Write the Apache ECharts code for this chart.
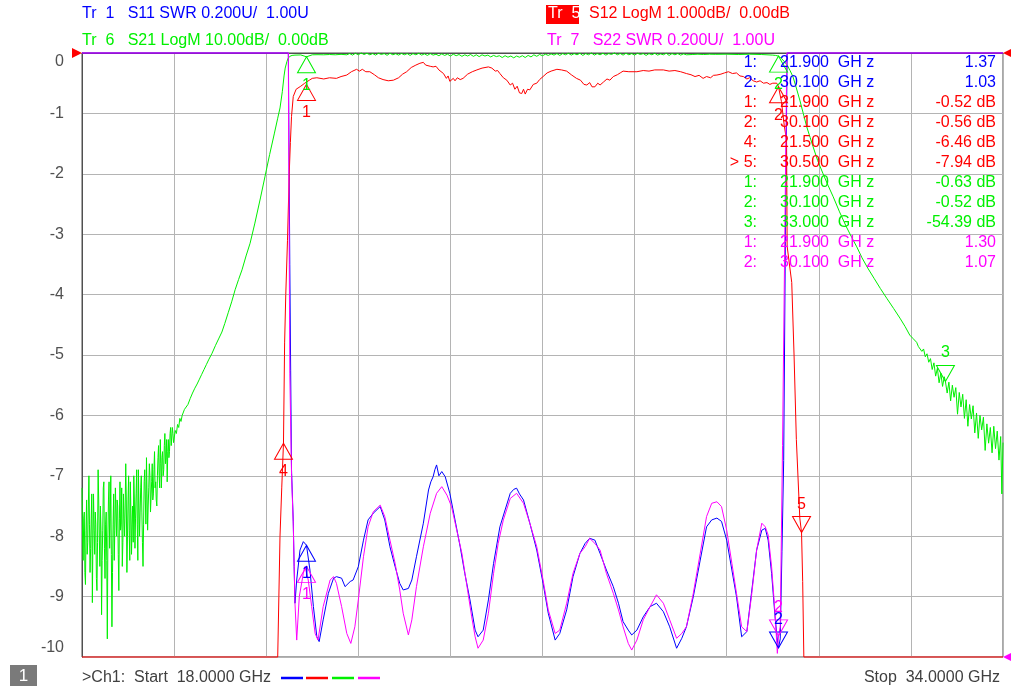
<!DOCTYPE html>
<html><head><meta charset="utf-8">
<script src="https://cdn.jsdelivr.net/npm/echarts@6.0.0/dist/echarts.min.js"></script>
<style>html,body{margin:0;padding:0;background:#fff;}#c{width:1011px;height:686px;}</style>
</head><body><div id="c"></div>
<script>
// ---------- DATA (frequency GHz, value) ----------
const startGHz = 18, stopGHz = 34;
const yTicks = [0,-1,-2,-3,-4,-5,-6,-7,-8,-9,-10];

// Tr1 S11 SWR (U)
const s11 = [[18,3],[21.585,3],[21.61,2.3],[21.625,1.95],[21.64,1.62],[21.67,1.45],[21.685,1.3],[21.70,1.178],[21.73,1.255],[21.787,1.354],[21.845,1.382],[21.9,1.37],[21.96,1.288],[22.02,1.167],[22.08,1.067],[22.12,1.051],[22.19,1.123],[22.28,1.211],[22.37,1.261],[22.42,1.266],[22.51,1.261],[22.57,1.233],[22.66,1.25],[22.71,1.255],[22.80,1.299],[22.89,1.387],[22.97,1.454],[23.06,1.476],[23.18,1.498],[23.26,1.454],[23.35,1.365],[23.44,1.299],[23.52,1.244],[23.58,1.222],[23.67,1.227],[23.73,1.255],[23.81,1.332],[23.93,1.443],[24.02,1.553],[24.06,1.58],[24.10,1.597],[24.13,1.62],[24.16,1.636],[24.2,1.6],[24.25,1.614],[24.31,1.597],[24.39,1.542],[24.48,1.454],[24.57,1.365],[24.65,1.277],[24.74,1.189],[24.83,1.089],[24.88,1.067],[24.97,1.089],[25.06,1.189],[25.15,1.31],[25.26,1.431],[25.35,1.487],[25.44,1.542],[25.5,1.555],[25.55,1.559],[25.6,1.54],[25.67,1.52],[25.78,1.443],[25.90,1.354],[26.01,1.244],[26.10,1.145],[26.22,1.056],[26.30,1.078],[26.42,1.156],[26.53,1.266],[26.65,1.343],[26.74,1.376],[26.82,1.393],[26.91,1.387],[27.00,1.343],[27.11,1.288],[27.23,1.233],[27.32,1.178],[27.40,1.117],[27.49,1.089],[27.55,1.073],[27.64,1.089],[27.75,1.133],[27.87,1.167],[27.98,1.178],[28.10,1.15],[28.21,1.1],[28.33,1.029],[28.42,1.062],[28.50,1.1],[28.62,1.2],[28.74,1.321],[28.85,1.431],[28.94,1.454],[29.03,1.46],[29.11,1.449],[29.20,1.387],[29.29,1.288],[29.37,1.2],[29.46,1.067],[29.55,1.084],[29.63,1.211],[29.72,1.354],[29.81,1.42],[29.87,1.426],[29.92,1.387],[29.98,1.277],[30.04,1.133],[30.08,1.056],[30.10,1.03],[30.13,1.06],[30.16,1.35],[30.19,1.65],[30.22,2.4],[30.25,3],[34,3]];

// Tr7 S22 SWR (U)
const s22 = [[18,3],[21.584,3],[21.61,1.94],[21.64,1.605],[21.67,1.44],[21.70,1.178],[21.73,1.056],[21.775,1.2],[21.845,1.277],[21.874,1.299],[21.9,1.30],[21.93,1.255],[21.99,1.167],[22.05,1.078],[22.10,1.056],[22.19,1.167],[22.31,1.255],[22.37,1.266],[22.42,1.244],[22.51,1.167],[22.60,1.078],[22.67,1.045],[22.74,1.1],[22.80,1.189],[22.89,1.332],[22.97,1.431],[23.06,1.481],[23.18,1.503],[23.26,1.465],[23.35,1.387],[23.44,1.31],[23.52,1.222],[23.58,1.145],[23.67,1.073],[23.73,1.123],[23.81,1.233],[23.93,1.365],[24.05,1.476],[24.16,1.542],[24.25,1.564],[24.34,1.536],[24.42,1.498],[24.51,1.42],[24.60,1.343],[24.68,1.244],[24.77,1.133],[24.83,1.067],[24.88,1.029],[24.97,1.056],[25.06,1.145],[25.15,1.277],[25.23,1.376],[25.32,1.454],[25.44,1.525],[25.55,1.542],[25.67,1.509],[25.78,1.443],[25.90,1.365],[26.01,1.255],[26.10,1.156],[26.22,1.078],[26.30,1.089],[26.42,1.178],[26.53,1.277],[26.65,1.343],[26.74,1.365],[26.82,1.393],[26.91,1.376],[27.00,1.354],[27.11,1.277],[27.23,1.211],[27.32,1.156],[27.40,1.1],[27.49,1.045],[27.55,1.023],[27.64,1.056],[27.75,1.123],[27.87,1.167],[27.98,1.206],[28.10,1.178],[28.21,1.123],[28.33,1.062],[28.42,1.078],[28.50,1.1],[28.62,1.211],[28.74,1.343],[28.85,1.465],[28.94,1.509],[29.03,1.514],[29.11,1.498],[29.20,1.42],[29.29,1.31],[29.37,1.211],[29.46,1.1],[29.55,1.084],[29.63,1.2],[29.72,1.354],[29.81,1.443],[29.87,1.431],[29.92,1.404],[29.98,1.299],[30.04,1.145],[30.08,1.012],[30.10,1.07],[30.13,1.1],[30.17,1.7],[30.21,2.4],[30.245,3],[34,3]];

// Tr5 S12 LogM (dB)
const s12 = [[18,-10],[21.40,-10],[21.42,-9.0],[21.44,-8.0],[21.47,-7.2],[21.50,-6.46],[21.52,-4.8],[21.54,-4.0],[21.57,-3.1],[21.60,-2.0],[21.62,-1.48],[21.64,-1.05],[21.67,-0.72],[21.72,-0.6],[21.80,-0.55],[21.87,-0.5],[21.90,-0.52],[21.95,-0.45],[22.00,-0.42],[22.08,-0.41],[22.2,-0.43],[22.3,-0.41],[22.42,-0.42],[22.5,-0.39],[22.6,-0.365],[22.68,-0.31],[22.77,-0.27],[22.82,-0.3],[22.87,-0.27],[22.93,-0.31],[23.00,-0.31],[23.08,-0.36],[23.15,-0.41],[23.23,-0.44],[23.32,-0.46],[23.41,-0.45],[23.5,-0.41],[23.57,-0.35],[23.64,-0.31],[23.72,-0.24],[23.8,-0.2],[23.87,-0.17],[23.93,-0.155],[23.97,-0.2],[24.0,-0.17],[24.05,-0.22],[24.10,-0.23],[24.15,-0.22],[24.2,-0.28],[24.28,-0.34],[24.33,-0.42],[24.36,-0.38],[24.39,-0.47],[24.42,-0.48],[24.45,-0.42],[24.48,-0.46],[24.52,-0.41],[24.57,-0.44],[24.62,-0.42],[24.7,-0.35],[24.78,-0.31],[24.86,-0.28],[24.95,-0.25],[25.06,-0.23],[25.12,-0.25],[25.18,-0.3],[25.22,-0.29],[25.26,-0.34],[25.32,-0.41],[25.38,-0.45],[25.44,-0.53],[25.48,-0.5],[25.52,-0.6],[25.56,-0.55],[25.6,-0.66],[25.64,-0.67],[25.67,-0.6],[25.7,-0.68],[25.74,-0.6],[25.78,-0.61],[25.84,-0.52],[25.9,-0.5],[25.95,-0.44],[26.01,-0.39],[26.08,-0.33],[26.15,-0.3],[26.25,-0.27],[26.33,-0.28],[26.42,-0.30],[26.5,-0.36],[26.59,-0.42],[26.66,-0.45],[26.72,-0.52],[26.77,-0.53],[26.82,-0.49],[26.86,-0.56],[26.91,-0.56],[26.96,-0.5],[27.0,-0.53],[27.06,-0.48],[27.12,-0.43],[27.17,-0.45],[27.23,-0.39],[27.3,-0.36],[27.35,-0.33],[27.40,-0.30],[27.5,-0.31],[27.64,-0.31],[27.75,-0.29],[27.85,-0.3],[27.95,-0.28],[28.1,-0.28],[28.2,-0.3],[28.3,-0.29],[28.4,-0.31],[28.5,-0.34],[28.58,-0.36],[28.65,-0.39],[28.72,-0.37],[28.79,-0.42],[28.85,-0.39],[28.92,-0.41],[28.97,-0.37],[29.03,-0.365],[29.1,-0.35],[29.16,-0.33],[29.23,-0.31],[29.3,-0.34],[29.37,-0.33],[29.43,-0.38],[29.49,-0.39],[29.55,-0.43],[29.6,-0.41],[29.66,-0.46],[29.72,-0.48],[29.78,-0.46],[29.84,-0.5],[29.9,-0.49],[29.95,-0.52],[30.0,-0.5],[30.07,-0.50],[30.10,-0.56],[30.15,-0.8],[30.2,-1.2],[30.24,-1.45],[30.25,-3.2],[30.33,-3.8],[30.37,-5.0],[30.41,-6.4],[30.47,-7.7],[30.50,-7.94],[30.52,-8.75],[30.54,-10],[34,-10]];

// Tr6 S21 LogM (dB): low stop band read at 0.01 GHz sweep steps from 18.00 GHz
const s21LowStart = 18.00, s21LowStep = 0.01;
const s21Low = [
 -72,-80,-84,-77,-76,-86,-88,-79,-74,-83,
 -81,-75,-70,-78,-86,-82,-77,-73,-91,-80,
 -73,-79,-83,-76,-78,-87,-89,-81,-69,-74,
 -80,-85,-75,-79,-93,-84,-79,-72,-71,-82,
 -87,-78,-76,-84,-97,-80,-74,-71,-82,-77,
 -70,-83,-95,-86,-78,-73,-84,-79,-72,-76,
 -80,-74,-75,-83,-89,-77,-71,-79,-78,-72,
 -85,-81,-73,-77,-80,-75,-68,-74,-86,-80,
 -74,-70,-79,-84,-71,-76,-83,-78,-75,-81,
 -70,-74,-82,-77,-73,-69,-78,-84,-69,-75,
 -80,-76,-72,-70,-76,-81,-85,-78,-71,-69,
 -74,-78,-67,-73,-79,-75,-72,-68,-70,-76,
 -76,-71,-68,-74,-73,-69,-66,-72,-71,-74,
 -75,-70,-67,-65,-70,-72,-64,-68,-72,-67,
 -66,-70,-69,-65,-63,-68,-67,-64,-71,-66,
 -64,-67,-66,-63,-62,-65,-65,-62,-63,-64.5];
// rest of the S21 sweep (GHz, dB)
const s21Rest = [[19.60,-64.5],[19.62,-62.5],[19.64,-63],[19.66,-61.5],[19.68,-62],[19.70,-60.5],[19.72,-61],[19.74,-60],[19.76,-59.8],[19.78,-59],[19.80,-58.8],[19.84,-58.2],[19.88,-57.2],[19.92,-56.3],[19.96,-55.5],[20.00,-54.8],[20.04,-54],[20.08,-53.2],[20.12,-52.4],[20.16,-51.6],[20.20,-50.8],[20.26,-49.7],[20.32,-48.4],[20.38,-47.2],[20.43,-46.2],[20.48,-44.8],[20.54,-43],[20.60,-41.2],[20.66,-39.2],[20.72,-37.5],[20.78,-35.9],[20.85,-33.6],[20.92,-31.5],[21.00,-28.3],[21.10,-24],[21.18,-20.4],[21.26,-16.8],[21.34,-13.4],[21.40,-10.8],[21.44,-9.1],[21.48,-6.4],[21.51,-3.8],[21.53,-2.5],[21.56,-1.4],[21.58,-0.9],[21.61,-0.55],[21.65,-0.4],[21.70,-0.35],[21.80,-0.32],[21.90,-0.63],[22.0,-0.3],[22.1,-0.28],[22.2,-0.3],[22.3,-0.25],[22.4,-0.3],[22.5,-0.22],[22.6,-0.3],[22.65,-0.1],[22.7,-0.35],[22.75,-0.05],[22.8,-0.3],[22.85,0],[22.9,-0.25],[22.95,-0.05],[23.0,-0.3],[23.05,-0.1],[23.1,-0.35],[23.15,-0.05],[23.2,-0.25],[23.25,-0.1],[23.3,-0.38],[23.35,-0.05],[23.4,-0.3],[23.45,-0.12],[23.5,-0.35],[23.55,-0.08],[23.6,-0.3],[23.65,-0.1],[23.7,-0.4],[23.75,-0.1],[23.8,-0.3],[23.85,-0.05],[23.9,-0.35],[23.95,-0.15],[24.0,-0.4],[24.05,-0.1],[24.1,-0.35],[24.15,-0.2],[24.2,-0.45],[24.25,-0.15],[24.3,-0.4],[24.35,-0.2],[24.4,-0.5],[24.45,-0.2],[24.5,-0.45],[24.55,-0.25],[24.6,-0.55],[24.65,-0.3],[24.7,-0.5],[24.75,-0.25],[24.8,-0.55],[24.85,-0.3],[24.9,-0.6],[24.95,-0.3],[25.0,-0.5],[25.05,-0.35],[25.1,-0.65],[25.15,-0.4],[25.2,-0.6],[25.25,-0.45],[25.3,-0.75],[25.35,-0.45],[25.4,-0.7],[25.45,-0.5],[25.5,-0.8],[25.55,-0.5],[25.6,-0.7],[25.65,-0.45],[25.7,-0.75],[25.75,-0.4],[25.8,-0.65],[25.85,-0.3],[25.9,-0.55],[25.95,-0.25],[26.0,-0.45],[26.05,-0.2],[26.1,-0.4],[26.15,-0.15],[26.2,-0.35],[26.25,-0.1],[26.3,-0.4],[26.35,-0.1],[26.4,-0.3],[26.45,-0.05],[26.5,-0.35],[26.55,-0.1],[26.6,-0.3],[26.65,-0.05],[26.7,-0.4],[26.75,-0.1],[26.8,-0.3],[26.85,0],[26.9,-0.35],[26.95,-0.1],[27.0,-0.3],[27.05,-0.05],[27.1,-0.35],[27.15,-0.1],[27.2,-0.25],[27.25,0],[27.3,-0.3],[27.35,-0.08],[27.4,-0.35],[27.45,-0.05],[27.5,-0.3],[27.55,-0.1],[27.6,-0.35],[27.65,-0.05],[27.7,-0.25],[27.75,-0.1],[27.8,-0.4],[27.85,-0.1],[27.9,-0.3],[27.95,-0.05],[28.0,-0.35],[28.05,-0.15],[28.1,-0.3],[28.15,-0.05],[28.2,-0.4],[28.25,-0.1],[28.3,-0.3],[28.35,-0.1],[28.4,-0.35],[28.45,-0.15],[28.5,-0.3],[28.6,-0.25],[28.7,-0.2],[28.8,-0.25],[28.9,-0.2],[29.0,-0.22],[29.2,-0.2],[29.4,-0.25],[29.6,-0.2],[29.8,-0.25],[29.9,-0.3],[30.0,-0.35],[30.05,-0.4],[30.1,-0.52],[30.15,-0.9],[30.2,-1.4],[30.25,-2.0],[30.3,-2.9],[30.35,-3.9],[30.41,-5.8],[30.47,-7.8],[30.53,-10.0],[30.59,-12.2],[30.65,-14.0],[30.70,-15.5],[30.78,-17.8],[30.87,-19.9],[30.96,-21.9],[31.05,-23.8],[31.16,-26.3],[31.28,-28.8],[31.37,-30.5],[31.46,-32.1],[31.55,-33.9],[31.65,-35.6],[31.76,-37.3],[31.87,-39.0],[31.98,-40.6],[32.10,-42.3],[32.21,-43.9],[32.30,-45.3],[32.38,-46.7],[32.44,-47.3],[32.50,-47.9],[32.53,-48.6],[32.56,-48.3],[32.59,-49.4],[32.62,-49.0],[32.65,-50.3],[32.68,-49.8],[32.71,-51.2],[32.74,-50.6],[32.77,-52.4],[32.80,-51.3],[32.83,-53.5],[32.86,-52.2],[32.89,-54.6],[32.92,-53.0],[32.95,-55.2],[32.98,-53.6],[33.00,-54.4],[33.03,-56.3],[33.06,-54.5],[33.09,-57.6],[33.12,-55.0],[33.15,-57.0],[33.18,-55.4],[33.21,-59.8],[33.24,-56.2],[33.27,-58.6],[33.30,-56.5],[33.33,-60.5],[33.36,-57.4],[33.39,-61.8],[33.42,-58.2],[33.45,-60.6],[33.48,-58.4],[33.51,-62.9],[33.54,-59.6],[33.57,-63.8],[33.60,-60.0],[33.63,-62.4],[33.66,-60.3],[33.69,-65.8],[33.72,-61.4],[33.75,-64.6],[33.78,-62.0],[33.81,-66.2],[33.84,-61.8],[33.87,-65.5],[33.90,-62.6],[33.93,-67.4],[33.96,-63.5],[33.98,-73.0],[34.00,-64.5]];

// markers: [number, GHz, value, triangle direction]
const mk11 = [[1,21.9,1.37,'up'],[2,30.1,1.03,'down']];
const mk12 = [[1,21.9,-0.52,'up'],[2,30.1,-0.56,'up'],[4,21.5,-6.46,'up'],[5,30.5,-7.94,'down']];
const mk21 = [[1,21.9,-0.63,'up'],[2,30.1,-0.52,'up'],[3,33.0,-54.39,'down']];
const mk22 = [[1,21.9,1.30,'up'],[2,30.1,1.07,'down']];
const activeMarker = 5;

// ---------- BUILD ----------
const s21 = s21Low.map((v,i)=>[+(s21LowStart + i*s21LowStep).toFixed(2), v]).concat(s21Rest);

const BLUE='#0000ff', RED='#ff0000', GREEN='#00f000', MAG='#ff00ff';
const FONT='"Liberation Sans", Arial, sans-serif';

function mkPoints(list, color){
  return list.map(([n,f,v,dir]) => ({
    coord:[f,v], symbol:'triangle', symbolSize:[18,16],
    symbolRotate: dir==='down'?180:0,
    symbolOffset:[0, dir==='down'?'-50%':'50%'],
    itemStyle:{color:'rgba(0,0,0,0)', borderColor:color, borderWidth:1},
    label:{show:true, formatter:String(n), position: dir==='down'?'top':'bottom', color:color, fontSize:16, fontFamily:FONT, distance:4}
  }));
}
function refMark(coord, color, side){
  return {coord:coord, symbol:'triangle', symbolSize:[10,10], symbolRotate: side==='left'?-90:90,
    symbolOffset:[side==='left'?-5:5,0], itemStyle:{color:color, borderWidth:0}, label:{show:false}};
}
function line(name, data, color, yIdx, marks){
  return {name, type:'line', data, xAxisIndex:0, yAxisIndex:yIdx, showSymbol:false, clip:false,
    lineStyle:{color, width:1}, itemStyle:{color}, silent:true, animation:false,
    markPoint:{data:marks, silent:true, animation:false}};
}

const rows = [];
mk11.forEach(m=>rows.push({c:BLUE, m, v:m[2].toFixed(2)}));
mk12.forEach(m=>rows.push({c:RED, m, v:m[2].toFixed(2)+' dB'}));
mk21.forEach(m=>rows.push({c:GREEN, m, v:m[2].toFixed(2)+' dB'}));
mk22.forEach(m=>rows.push({c:MAG, m, v:m[2].toFixed(2)}));

const g = [];
function txt(x,y,text,fill,opt){ g.push(Object.assign({type:'text', x, y, z:100, silent:true,
  style:{text, fill, font:(opt&&opt.font)||('16px '+FONT), align:(opt&&opt.align)||'left', verticalAlign:'middle'}})); }
txt(82,14,'Tr  1   S11 SWR 0.200U/  1.00U',BLUE);
txt(82,41,'Tr  6   S21 LogM 10.00dB/  0.00dB',GREEN);
g.push({type:'rect', shape:{x:546,y:5,width:33,height:19}, style:{fill:RED}, z:99, silent:true});
txt(548,14,'Tr  5','#ffffff');
txt(589,14,'S12 LogM 1.000dB/  0.00dB',RED);
txt(547,41,'Tr  7   S22 SWR 0.200U/  1.00U',MAG);
rows.forEach((r,i)=>{
  const y = 63 + 20*i;
  const lab = (r.c===RED && r.m[0]===activeMarker ? '> ' : '') + r.m[0] + ':';
  txt(757,y,lab,r.c,{align:'right'});
  txt(780,y,r.m[1].toFixed(3)+'  GH z',r.c);
  txt(996,y,r.v,r.c,{align:'right'});
});
g.push({type:'rect', shape:{x:10,y:665,width:27,height:21}, style:{fill:'#7a7a7a'}, z:99, silent:true});
txt(23.5,676,'1','#ffffff',{align:'center', font:'17px '+FONT});
txt(82,678,'>Ch1:  Start  '+startGHz.toFixed(4)+' GHz','#404040');
txt(1000,678,'Stop  '+stopGHz.toFixed(4)+' GHz','#404040',{align:'right'});
[[281,BLUE],[306,RED],[332,GREEN],[358,MAG]].forEach(([x,c])=>{
  g.push({type:'line', shape:{x1:x,y1:678,x2:x+22,y2:678}, style:{stroke:c, lineWidth:2.5}, z:99, silent:true});
});

const chart = echarts.init(document.getElementById('c'), null, {renderer:'canvas'});
chart.setOption({
  animation:false,
  backgroundColor:'#ffffff',
  textStyle:{fontFamily:FONT},
  grid:{left:82, right:8, top:53, bottom:29, show:true, borderColor:'#505050', borderWidth:1, backgroundColor:'rgba(0,0,0,0)'},
  xAxis:{type:'value', min:startGHz, max:stopGHz, interval:(stopGHz-startGHz)/10,
    axisLabel:{show:false}, axisTick:{show:false}, axisLine:{show:true, lineStyle:{color:'#505050'}},
    splitLine:{show:true, lineStyle:{color:'#b4b4b4', width:1}}},
  yAxis:[
    {type:'value', min:yTicks[yTicks.length-1], max:yTicks[0], interval:1,
      axisLine:{show:true, lineStyle:{color:'#505050'}}, axisTick:{show:false},
      splitLine:{show:true, lineStyle:{color:'#b4b4b4', width:1}},
      axisLabel:{show:true, showMinLabel:true, showMaxLabel:true, color:'#505050', fontSize:16, margin:18, fontFamily:FONT,
        formatter:v => v===yTicks[0] ? '{a|'+v+'}' : (v===yTicks[yTicks.length-1] ? '{b|'+v+'}' : String(v)),
        rich:{a:{padding:[18,0,0,0], color:'#505050', fontSize:16, fontFamily:FONT}, b:{padding:[0,0,18,0], color:'#505050', fontSize:16, fontFamily:FONT}}}},
    {type:'value', min:-100, max:0, show:false},
    {type:'value', min:1, max:3, show:false}
  ],
  series:[
    line('S11', s11, BLUE, 2, mkPoints(mk11, BLUE)),
    line('S12', s12, RED, 0, mkPoints(mk12, RED).concat([refMark([startGHz,0],RED,'left'), refMark([stopGHz,0],RED,'right')])),
    line('S21', s21, GREEN, 1, mkPoints(mk21, GREEN)),
    line('S22', s22, MAG, 2, mkPoints(mk22, MAG).concat([refMark([stopGHz,1],MAG,'right')]))
  ],
  graphic:g
});
</script></body></html>
